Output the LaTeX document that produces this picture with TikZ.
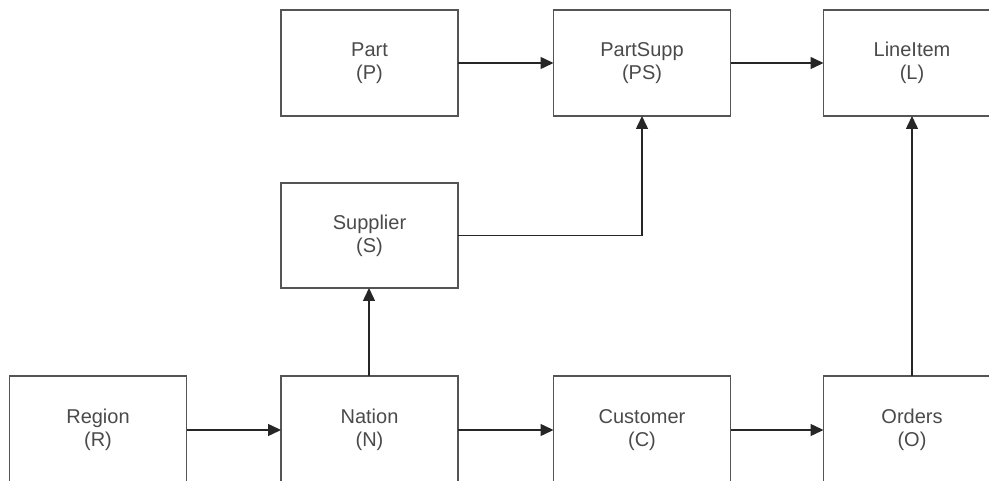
\documentclass[tikz,border=0pt]{standalone}
\usepackage{fontspec}
\setmainfont{Liberation Sans}
\usetikzlibrary{arrows.meta}
\definecolor{boxline}{HTML}{555555}
\definecolor{boxtext}{HTML}{4A4A4A}
\tikzset{
  entity/.style={draw=boxline, line width=1.7pt, rectangle, minimum width=177pt,
    minimum height=106pt, inner sep=0pt, outer sep=0pt, align=center,
    text=boxtext, font=\fontsize{20}{23}\selectfont},
  link/.style={draw=black!85, line width=1.5pt,
    -{Triangle[length=13pt,width=12pt]}}
}
\begin{document}
\begin{tikzpicture}[x=1pt,y=-1pt]
  \useasboundingbox (0,0) rectangle (989,481);
  \clip (0,0) rectangle (989,481);
  % top row
  \node[entity] (P)  at (369.5,63) {Part\\(P)};
  \node[entity] (PS) at (642,63)   {PartSupp\\(PS)};
  \node[entity] (L)  at (912,63)   {LineItem\\(L)};
  % middle
  \node[entity, minimum height=105pt] (S) at (369.5,235.5) {Supplier\\(S)};
  % bottom row
  \node[entity, minimum height=108pt] (R) at (98,430)    {Region\\(R)};
  \node[entity, minimum height=108pt] (N) at (369.5,430) {Nation\\(N)};
  \node[entity, minimum height=108pt] (C) at (642,430)   {Customer\\(C)};
  \node[entity, minimum height=108pt] (O) at (912,430)   {Orders\\(O)};
  % connectors
  \draw[link] (P) -- (PS);
  \draw[link] (PS) -- (L);
  \draw[link] (S.east) -| (PS.south);
  \draw[link] ([xshift=-0.5pt]N.north) -- ([xshift=-0.5pt]S.south);
  \draw[link] (R) -- (N);
  \draw[link] (N) -- (C);
  \draw[link] (C) -- (O);
  \draw[link] (O) -- (L);
\end{tikzpicture}
\end{document}
